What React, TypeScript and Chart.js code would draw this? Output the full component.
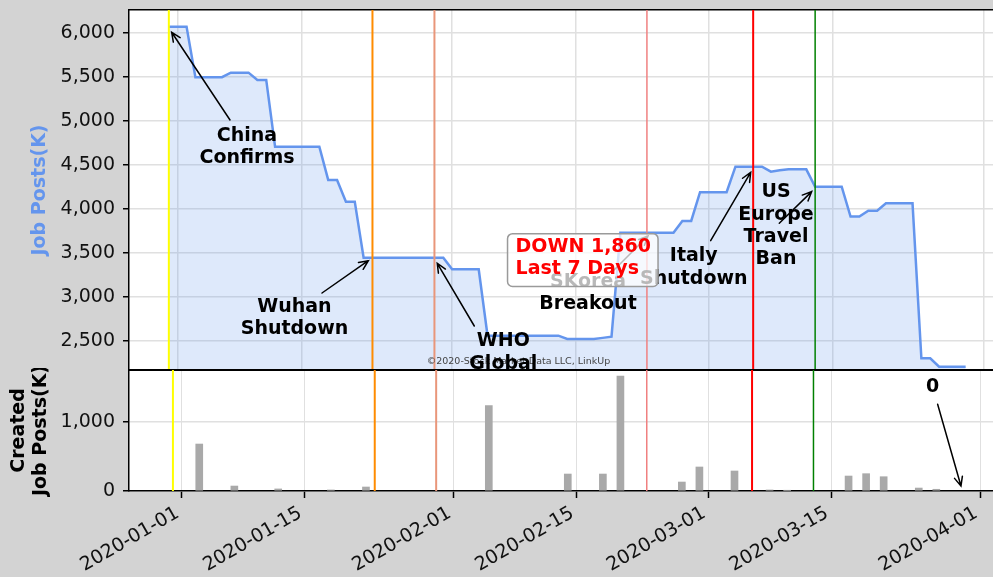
import React, { useEffect, useRef } from 'react';
import { Chart, registerables } from 'chart.js';

Chart.register(...registerables);

const FONT = '"DejaVu Sans", sans-serif';

// ---------- data ----------
const START_DATE = '2019-12-31';
const JOB_POSTS = [
  6072, 6072, 6072, 5497, 5497, 5497, 5497, 5549, 5549, 5549,
  5466, 5466, 4708, 4708, 4708, 4708, 4708, 4708, 4330, 4330,
  4083, 4083, 3447, 3447, 3447, 3447, 3447, 3447, 3447, 3447,
  3447, 3447, 3315, 3315, 3315, 3315, 2560, 2560, 2560, 2560,
  2560, 2560, 2560, 2560, 2560, 2523, 2523, 2523, 2523, 2535,
  2549, 3731, 3731, 3731, 3731, 3731, 3731, 3731, 3864, 3864,
  4190, 4190, 4190, 4190, 4481, 4481, 4481, 4481, 4424, 4440,
  4450, 4450, 4450, 4253, 4253, 4253, 4253, 3913, 3913, 3980,
  3980, 4064, 4064, 4064, 4064, 2303, 2303, 2208, 2208, 2208,
  2208,
];

const CREATED_DATES = [
  '2020-01-03', '2020-01-07', '2020-01-12', '2020-01-18', '2020-01-22',
  '2020-02-05', '2020-02-14', '2020-02-18', '2020-02-20', '2020-02-27',
  '2020-02-29', '2020-03-04', '2020-03-08', '2020-03-10', '2020-03-17',
  '2020-03-19', '2020-03-21', '2020-03-25', '2020-03-27',
];
const CREATED_POSTS = [
  681, 72, 30, 15, 58,
  1237, 246, 246, 1667, 130,
  348, 290, 15, 8, 217,
  251, 207, 43, 25,
];

const TICK_LABELS = [
  '2020-01-01', '2020-01-15', '2020-02-01', '2020-02-15',
  '2020-03-01', '2020-03-15', '2020-04-01',
];
const TOP_Y_TICKS = [2500, 3000, 3500, 4000, 4500, 5000, 5500, 6000];
const BOTTOM_Y_TICKS = [0, 1000];

const EVENT_DATES = ['2019-12-31', '2020-01-23', '2020-01-30', '2020-02-23', '2020-03-06', '2020-03-13'];

const TOP_TITLE = 'Job Posts(K)';
const BOTTOM_TITLE = ['Created', 'Job Posts(K)'];
const COPYRIGHT = '©2020-Stock Market Data LLC, LinkUp';
const BOX_LINES = ['DOWN 1,860', 'Last 7 Days'];

// ---------- styles / placement ----------
const EVENT_STYLES = [
  { color: '#ffff00', width: 2 },
  { color: '#ff8c00', width: 2 },
  { color: '#e9967a', width: 2 },
  { color: '#f08080', width: 1.5 },
  { color: '#ff0000', width: 2 },
  { color: '#008000', width: 1.5 },
];

type Note = { lines: string[]; at: [number, number]; from: [number, number]; to: [number, number] };

const TOP_NOTES: Note[] = [
  { lines: ['China', 'Confirms'], at: [7.83, 4705], from: [5.91, 5011], to: [-0.68, 6008] },
  { lines: ['Wuhan', 'Shutdown'], at: [13.19, 2758], from: [16.3, 3045], to: [21.53, 3412] },
  { lines: ['WHO', 'Global'], at: [36.78, 2369], from: [33.5, 2670], to: [29.32, 3383] },
  { lines: ['SKorea', 'Breakout'], at: [46.35, 3045], from: [49.06, 3284], to: [53.12, 3693] },
  { lines: ['Italy', 'Shutdown'], at: [58.29, 3335], from: [60.2, 3640], to: [64.72, 4415] },
  { lines: ['US', 'Europe', 'Travel', 'Ban'], at: [67.58, 3808], from: [67.95, 3838], to: [71.61, 4197] },
];
const BOTTOM_NOTES: Note[] = [
  { lines: ['0'], at: [85.58, 1512], from: [86.15, 1257], to: [88.81, 72] },
];
const BOX_AT: [number, number] = [38.16, 3445];
const COPYRIGHT_AT: [number, number] = [28.13, 2261];

function dayNum(s: string): number {
  const [y, m, d] = s.split('-').map(Number);
  return (Date.UTC(y, m - 1, d) - Date.UTC(2020, 0, 1)) / 86400000;
}
const TICK_DAYS = TICK_LABELS.map(dayNum);

function drawArrow(ctx: CanvasRenderingContext2D, x1: number, y1: number, x2: number, y2: number) {
  ctx.save();
  ctx.strokeStyle = '#000';
  ctx.lineWidth = 1.5;
  ctx.lineCap = 'round';
  ctx.beginPath();
  ctx.moveTo(x1, y1);
  ctx.lineTo(x2, y2);
  const a = Math.atan2(y2 - y1, x2 - x1);
  const L = 10;
  const h = 0.42;
  ctx.moveTo(x2 - L * Math.cos(a - h), y2 - L * Math.sin(a - h));
  ctx.lineTo(x2, y2);
  ctx.lineTo(x2 - L * Math.cos(a + h), y2 - L * Math.sin(a + h));
  ctx.stroke();
  ctx.restore();
}

function drawNotes(chart: any, notes: Note[]) {
  const { ctx, scales } = chart;
  const xs = scales.x;
  const ys = scales.y;
  notes.forEach((n) => {
    drawArrow(
      ctx,
      xs.getPixelForValue(n.from[0]), ys.getPixelForValue(n.from[1]),
      xs.getPixelForValue(n.to[0]), ys.getPixelForValue(n.to[1]),
    );
    const tx = xs.getPixelForValue(n.at[0]);
    const ty = ys.getPixelForValue(n.at[1]);
    ctx.save();
    ctx.font = `bold 19px ${FONT}`;
    ctx.fillStyle = '#000';
    ctx.textAlign = 'center';
    ctx.textBaseline = 'middle';
    const lh = 22.3;
    const k = n.lines.length;
    n.lines.forEach((l, i) => ctx.fillText(l, tx, ty + (i - (k - 1) / 2) * lh));
    ctx.restore();
  });
}

const bgPlugin = {
  id: 'bg',
  beforeDraw(chart: any) {
    const { ctx, chartArea: a } = chart;
    ctx.save();
    ctx.fillStyle = '#ffffff';
    ctx.fillRect(a.left, a.top, a.right - a.left, a.bottom - a.top);
    ctx.restore();
  },
};

const eventPlugin = {
  id: 'events',
  afterDatasetsDraw(chart: any) {
    const { ctx, chartArea: a, scales } = chart;
    EVENT_DATES.forEach((d, i) => {
      const px = scales.x.getPixelForValue(dayNum(d));
      ctx.save();
      ctx.strokeStyle = EVENT_STYLES[i].color;
      ctx.lineWidth = EVENT_STYLES[i].width;
      ctx.beginPath();
      ctx.moveTo(px, a.top);
      ctx.lineTo(px, a.bottom);
      ctx.stroke();
      ctx.restore();
    });
  },
};

const topNotesPlugin = {
  id: 'topNotes',
  afterDraw(chart: any) {
    const { ctx, scales } = chart;
    const xs = scales.x;
    const ys = scales.y;
    // copyright
    ctx.save();
    ctx.font = `9.5px ${FONT}`;
    ctx.fillStyle = '#444';
    ctx.textAlign = 'left';
    ctx.textBaseline = 'middle';
    ctx.fillText(COPYRIGHT, xs.getPixelForValue(COPYRIGHT_AT[0]), ys.getPixelForValue(COPYRIGHT_AT[1]));
    ctx.restore();

    drawNotes(chart, TOP_NOTES);

    // summary box
    const lx = xs.getPixelForValue(BOX_AT[0]);
    const cy = ys.getPixelForValue(BOX_AT[1]);
    const lh = 22.3;
    ctx.save();
    ctx.font = `bold 19px ${FONT}`;
    const w = Math.max(...BOX_LINES.map((l) => ctx.measureText(l).width));
    const y0 = cy - lh / 2;
    const y1 = cy + lh / 2;
    const bx = lx - 8;
    const by = y0 - 13;
    const bw = w + 15;
    const bh = y1 + 17.5 - by;
    ctx.beginPath();
    (ctx as any).roundRect(bx, by, bw, bh, 5);
    ctx.fillStyle = 'rgba(255,255,255,0.72)';
    ctx.fill();
    ctx.strokeStyle = '#9a9a9a';
    ctx.lineWidth = 1.5;
    ctx.stroke();
    ctx.fillStyle = '#ff0000';
    ctx.textAlign = 'left';
    ctx.textBaseline = 'middle';
    ctx.fillText(BOX_LINES[0], lx, y0);
    ctx.fillText(BOX_LINES[1], lx, y1);
    ctx.restore();
  },
};

const bottomNotesPlugin = {
  id: 'bottomNotes',
  afterDraw(chart: any) {
    drawNotes(chart, BOTTOM_NOTES);
  },
};

const GRID = '#e0e0e0';

export default function App() {
  const topRef = useRef<HTMLCanvasElement>(null);
  const botRef = useRef<HTMLCanvasElement>(null);

  useEffect(() => {
    document.body.style.margin = '0';
    Chart.defaults.font.family = FONT;

    const start = dayNum(START_DATE);
    const linePoints = JOB_POSTS.map((v, i) => ({ x: start + i, y: v }));
    const barPoints = CREATED_DATES.map((d, i) => ({ x: dayNum(d), y: CREATED_POSTS[i] }));

    const top = new Chart(topRef.current as HTMLCanvasElement, {
      type: 'line',
      data: {
        datasets: [
          {
            data: linePoints,
            borderColor: '#6495ed',
            borderWidth: 2.5,
            backgroundColor: 'rgba(100,149,237,0.21)',
            fill: 'start',
            pointRadius: 0,
            tension: 0,
          },
        ],
      },
      options: {
        responsive: false,
        animation: false,
        devicePixelRatio: 1,
        layout: { padding: { top: 10, left: 0, right: 0, bottom: 0 }, autoPadding: false } as any,
        plugins: { legend: { display: false }, tooltip: { enabled: false } },
        scales: {
          x: {
            type: 'linear',
            position: 'bottom',
            min: -5.5,
            max: 92.09,
            ticks: { display: false },
            grid: { color: GRID, lineWidth: 1.5, drawTicks: false },
            border: { display: false },
            afterBuildTicks: (s: any) => { s.ticks = TICK_DAYS.map((v) => ({ value: v })); },
            afterFit: (s: any) => { s.height = 0; s.paddingLeft = 0; s.paddingRight = 0; },
          } as any,
          x2: {
            type: 'linear',
            position: 'top',
            min: -5.5,
            max: 92.09,
            ticks: { display: false },
            grid: { display: false, drawTicks: false },
            border: { display: true, color: '#000', width: 1.5 },
            afterFit: (s: any) => { s.height = 0; s.paddingLeft = 0; s.paddingRight = 0; },
          } as any,
          y: {
            type: 'linear',
            position: 'left',
            min: 2170,
            max: 6261,
            afterBuildTicks: (s: any) => { s.ticks = TOP_Y_TICKS.map((v) => ({ value: v })); },
            ticks: {
              font: { family: FONT, size: 19 },
              color: '#111',
              padding: 8,
              callback: (v: any) => Number(v).toLocaleString('en-US'),
            },
            grid: { color: GRID, lineWidth: 1.5, tickColor: '#000', tickLength: 6, tickWidth: 1.5 },
            border: { display: true, color: '#000', width: 1.5 },
            title: {
              display: true,
              text: TOP_TITLE,
              color: '#6495ed',
              font: { family: FONT, size: 19, weight: 'bold' },
              padding: { top: 28.5, bottom: 0 },
            },
            afterFit: (s: any) => { s.width = 129; s.paddingTop = 0; s.paddingBottom = 0; },
          } as any,
        },
      },
      plugins: [bgPlugin, eventPlugin, topNotesPlugin],
    });

    const bot = new Chart(botRef.current as HTMLCanvasElement, {
      type: 'bar',
      data: {
        datasets: [
          {
            data: barPoints,
            backgroundColor: '#a9a9a9',
            barThickness: 7,
          },
        ],
      },
      options: {
        responsive: false,
        animation: false,
        devicePixelRatio: 1,
        layout: { padding: { top: 2, left: 0, right: 0, bottom: 0 }, autoPadding: false } as any,
        plugins: { legend: { display: false }, tooltip: { enabled: false } },
        scales: {
          x: {
            type: 'linear',
            position: 'bottom',
            min: -6.006,
            max: 92.46,
            offset: false,
            afterBuildTicks: (s: any) => { s.ticks = TICK_DAYS.map((v) => ({ value: v })); },
            ticks: {
              autoSkip: false,
              maxRotation: 30,
              minRotation: 30,
              padding: 4,
              labelOffset: -4,
              font: { family: FONT, size: 19 },
              color: '#111',
              callback: (v: any) => {
                const i = TICK_DAYS.indexOf(Number(v));
                return i >= 0 ? TICK_LABELS[i] : '';
              },
            },
            grid: { color: GRID, lineWidth: 1, tickColor: '#000', tickLength: 7, tickWidth: 1.5, offset: false },
            border: { display: true, color: '#000', width: 1.5 },
            afterFit: (s: any) => { s.height = 86; s.paddingLeft = 0; s.paddingRight = 0; },
          } as any,
          x2: {
            type: 'linear',
            position: 'top',
            min: -6.006,
            max: 92.46,
            ticks: { display: false },
            grid: { display: false, drawTicks: false },
            border: { display: true, color: '#000', width: 2 },
            afterFit: (s: any) => { s.height = 0; s.paddingLeft = 0; s.paddingRight = 0; },
          } as any,
          y: {
            type: 'linear',
            position: 'left',
            min: 0,
            max: 1754,
            afterBuildTicks: (s: any) => { s.ticks = BOTTOM_Y_TICKS.map((v) => ({ value: v })); },
            ticks: {
              font: { family: FONT, size: 19 },
              color: '#111',
              padding: 8,
              callback: (v: any) => Number(v).toLocaleString('en-US'),
            },
            grid: { color: GRID, lineWidth: 1.5, tickColor: '#000', tickLength: 6, tickWidth: 1.5 },
            border: { display: true, color: '#000', width: 1.5 },
            title: {
              display: true,
              text: BOTTOM_TITLE,
              color: '#000',
              font: { family: FONT, size: 19, weight: 'bold', lineHeight: 1.16 },
              padding: { top: 8.5, bottom: 0 },
            },
            afterFit: (s: any) => { s.width = 129; s.paddingTop = 0; s.paddingBottom = 0; },
          } as any,
        },
      },
      plugins: [bgPlugin, eventPlugin, bottomNotesPlugin],
    });

    return () => {
      top.destroy();
      bot.destroy();
    };
  }, []);

  return (
    <div
      style={{
        position: 'fixed',
        left: 0,
        top: 0,
        width: 993,
        height: 577,
        background: '#d3d3d3',
        overflow: 'hidden',
      }}
    >
      <canvas
        ref={topRef}
        width={993}
        height={370}
        style={{ position: 'absolute', left: 0, top: 0, width: 993, height: 370 }}
      />
      <canvas
        ref={botRef}
        width={993}
        height={209}
        style={{ position: 'absolute', left: 0, top: 368, width: 993, height: 209 }}
      />
    </div>
  );
}
